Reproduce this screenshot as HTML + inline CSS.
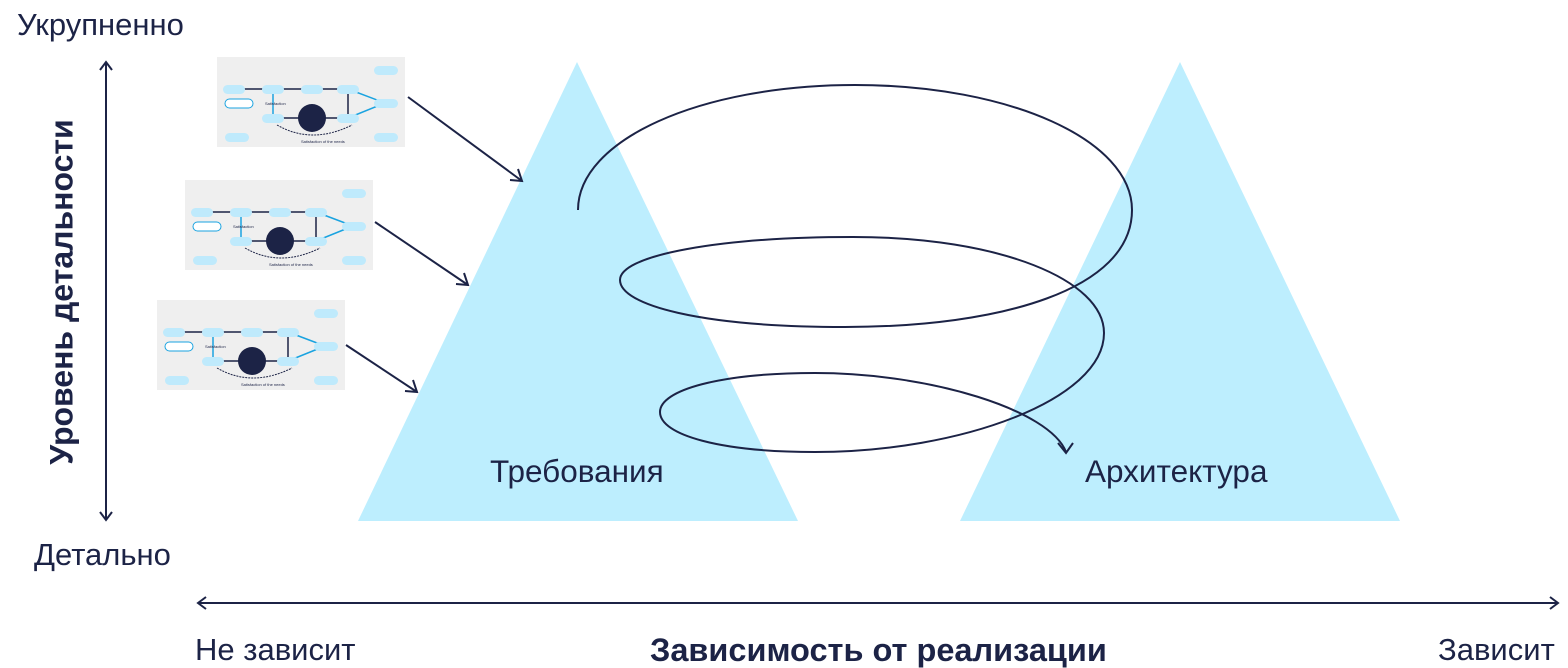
<!DOCTYPE html>
<html><head><meta charset="utf-8"><style>
html,body{margin:0;padding:0;background:#fff;}
body{width:1568px;height:666px;position:relative;overflow:hidden;font-family:"Liberation Sans",sans-serif;color:#1c2346;}
.t{position:absolute;white-space:nowrap;line-height:1;}
</style></head><body>
<svg width="1568" height="666" style="position:absolute;left:0;top:0">
<defs>
<g id="th">
<rect x="0" y="0" width="188" height="90" fill="#efefef"/>
<g stroke="#1c2346" stroke-width="1.5">
<line x1="16" y1="32" x2="131" y2="32"/>
<line x1="56" y1="61" x2="131" y2="61"/>
<line x1="131" y1="32" x2="131" y2="61"/>
<line x1="56" y1="32" x2="56" y2="61" stroke="#1aa3e0"/>
<line x1="131" y1="32" x2="168" y2="46" stroke="#1aa3e0"/>
<line x1="131" y1="61" x2="168" y2="46" stroke="#1aa3e0"/>
</g>
<path d="M60 68 Q95 88 135 68" fill="none" stroke="#1c2346" stroke-width="1" stroke-dasharray="2 1"/>
<g fill="#bfeafc">
<rect x="6" y="28" width="22" height="9" rx="4.5"/>
<rect x="45" y="28" width="22" height="9" rx="4.5"/>
<rect x="84" y="28" width="22" height="9" rx="4.5"/>
<rect x="120" y="28" width="22" height="9" rx="4.5"/>
<rect x="45" y="57" width="22" height="9" rx="4.5"/>
<rect x="120" y="57" width="22" height="9" rx="4.5"/>
<rect x="157" y="9" width="24" height="9" rx="4.5"/>
<rect x="157" y="42" width="24" height="9" rx="4.5"/>
<rect x="157" y="76" width="24" height="9" rx="4.5"/>
<rect x="8" y="76" width="24" height="9" rx="4.5"/>
</g>
<rect x="8" y="42" width="28" height="9" rx="4.5" fill="#fff" stroke="#1aa3e0"/>
<circle cx="95" cy="61" r="14" fill="#1c2346"/>
<text x="84" y="86" font-size="4" font-family="Liberation Sans" fill="#1c2346">Satisfaction of the needs</text>
<text x="48" y="48" font-size="4" font-family="Liberation Sans" fill="#1c2346">Satisfaction</text>
</g>
</defs>
<polygon points="577,62 358,521 798,521" fill="#bdeefe"/>
<polygon points="1180,62 960,521 1400,521" fill="#bdeefe"/>
<use href="#th" x="217" y="57"/>
<use href="#th" x="185" y="180"/>
<use href="#th" x="157" y="300"/>
<g stroke="#1c2346" stroke-width="2" fill="none">
<line x1="408" y1="97" x2="522" y2="181"/><polyline points="510,180 522,181 518,169"/>
<line x1="375" y1="222" x2="468" y2="285"/><polyline points="456,284 468,285 464,273"/>
<line x1="346" y1="345" x2="417" y2="392"/><polyline points="405,391 417,392 413,380"/>
<line x1="106" y1="62" x2="106" y2="520"/><polyline points="100,70 106,62 112,70"/><polyline points="100,512 106,520 112,512"/>
<line x1="198" y1="603" x2="1558" y2="603"/><polyline points="206,597 198,603 206,609"/><polyline points="1550,597 1558,603 1550,609"/>
<path d="M578 210 C578 140 700 85 855 85 C1010 85 1132 140 1132 210 C1132 290 1000 327 845 327 C700 327 620 305 620 280 C620 255 720 237 853 237 C1000 237 1104 280 1104 333 C1104 400 960 452 815 452 C720 452 660 435 660 412 C660 390 720 373 815 373 C930 373 1050 410 1066 452"/>
<polyline points="1058,443 1066,453 1073,443"/>
</g>
<text x="64" y="292" transform="rotate(-90 64 292)" text-anchor="middle" dominant-baseline="middle" font-size="32" font-weight="bold" fill="#1c2346" font-family="Liberation Sans">Уровень детальности</text>
</svg>
<div class="t" style="left:17px;top:9px;font-size:31px;">Укрупненно</div>
<div class="t" style="left:34px;top:539px;font-size:31px;">Детально</div>
<div class="t" style="left:195px;top:634px;font-size:31px;">Не зависит</div>
<div class="t" style="left:1438px;top:634px;font-size:31px;">Зависит</div>
<div class="t" style="left:650px;top:634px;font-size:32.5px;font-weight:bold;">Зависимость от реализации</div>
<div class="t" style="left:490px;top:456px;font-size:31.5px;">Требования</div>
<div class="t" style="left:1085px;top:456px;font-size:31.5px;">Архитектура</div>
</body></html>
